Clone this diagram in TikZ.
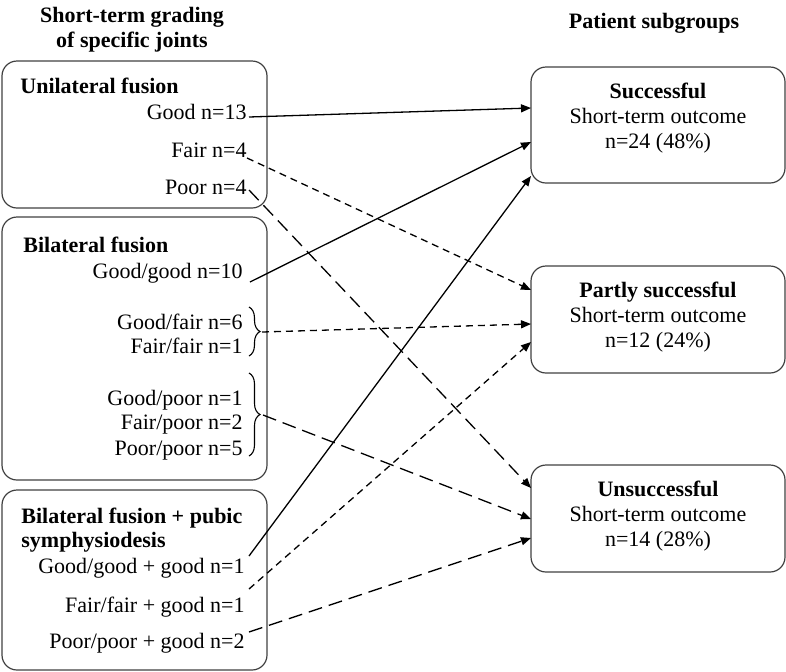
\documentclass[tikz,border=0pt]{standalone}
\usepackage{fontspec}
\setmainfont{Liberation Serif}
\usetikzlibrary{arrows.meta,decorations.pathreplacing,fit}
\begin{document}
\begin{tikzpicture}[x=0.5pt,y=-0.5pt,
  font=\fontsize{11}{12.5}\selectfont,
  box/.style={draw=black!75, line width=0.6pt, rounded corners=7.5pt, inner sep=0pt},
  lbl/.style={inner sep=0pt, anchor=base east},
  hdr/.style={inner sep=0pt, anchor=base west, font=\fontsize{11}{12.5}\selectfont\bfseries},
  ctr/.style={inner sep=0pt, anchor=base},
  solidarr/.style={line width=0.65pt, -{Triangle[length=5pt,width=4pt]}},
  shortdash/.style={line width=0.65pt, dash pattern=on 3.5pt off 2.5pt, -{Triangle[length=5pt,width=4pt]}},
  longdash/.style={line width=0.65pt, dash pattern=on 7pt off 3.5pt, -{Triangle[length=5pt,width=4pt]}},
  bracedeco/.style={line width=0.55pt, decorate, decoration={brace, amplitude=5.5pt}}
]
\useasboundingbox (0,0) rectangle (786,671);

% headers
\node[ctr, font=\fontsize{11}{12.5}\selectfont\bfseries] (t1) at (132,22) {Short-term grading};
\node[ctr, font=\fontsize{11}{12.5}\selectfont\bfseries] (t2) at (132,47) {of specific joints};
\node[ctr, font=\fontsize{11}{12.5}\selectfont\bfseries] (t3) at (654,28) {Patient subgroups};

% left boxes
\node[box, fit={(2,61) (267,208)}] (b1) {};
\node[box, fit={(2,217) (267,480)}] (b2) {};
\node[box, fit={(2,490) (267,670)}] (b3) {};

% right boxes
\node[box, fit={(531,67) (785,183)}] (r1) {};
\node[box, fit={(531,266) (785,373)}] (r2) {};
\node[box, fit={(531,465) (785,572)}] (r3) {};

% box 1 texts
\node[hdr] (h1) at (20,93) {Unilateral fusion};
\node[lbl] (u1) at (247,119) {Good n=13};
\node[lbl] (u2) at (247,157) {Fair n=4};
\node[lbl] (u3) at (247,194) {Poor n=4};

% box 2 texts
\node[hdr] (h2) at (23,252) {Bilateral fusion};
\node[lbl] (v1) at (243,278) {Good/good n=10};
\node[lbl] (v2) at (243,329) {Good/fair n=6};
\node[lbl] (v3) at (243,353) {Fair/fair n=1};
\node[lbl] (v4) at (243,405) {Good/poor n=1};
\node[lbl] (v5) at (243,429) {Fair/poor n=2};
\node[lbl] (v6) at (243,455) {Poor/poor n=5};

% braces
\draw[bracedeco] (249,307) -- (249,356);
\draw[bracedeco] (249,373) -- (249,456);
\coordinate (br1) at (262,332);
\coordinate (br2) at (263,415);

% box 3 texts
\node[hdr] (h3) at (21,523) {Bilateral fusion + pubic};
\node[hdr] (h3b) at (21,547) {symphysiodesis};
\node[lbl] (w1) at (245,573) {Good/good + good n=1};
\node[lbl] (w2) at (245,612) {Fair/fair + good n=1};
\node[lbl] (w3) at (245,648) {Poor/poor + good n=2};

% right texts
\node[ctr, font=\fontsize{11}{12.5}\selectfont\bfseries] (s1) at (658,98) {Successful};
\node[ctr] (s2) at (658,123) {Short-term outcome};
\node[ctr] (s3) at (658,148) {n=24 (48\%)};
\node[ctr, font=\fontsize{11}{12.5}\selectfont\bfseries] (p1) at (658,297) {Partly successful};
\node[ctr] (p2) at (658,322) {Short-term outcome};
\node[ctr] (p3) at (658,347) {n=12 (24\%)};
\node[ctr, font=\fontsize{11}{12.5}\selectfont\bfseries] (n1) at (658,496) {Unsuccessful};
\node[ctr] (n2) at (658,521) {Short-term outcome};
\node[ctr] (n3) at (658,546) {n=14 (28\%)};

% start coordinates
\coordinate (a1) at (249,117);
\coordinate (a2) at (247,158);
\coordinate (a3) at (249,190);
\coordinate (a4) at (250,282);
\coordinate (a7) at (249,556);
\coordinate (a8) at (249,589);
\coordinate (a9) at (249,632);

% end coordinates
\coordinate (e1) at (531,108);
\coordinate (e2) at (531,142);
\coordinate (e3) at (531,176);
\coordinate (f1) at (531,290);
\coordinate (f2) at (531,324);
\coordinate (f3) at (531,342);
\coordinate (g1) at (531,488);
\coordinate (g2) at (531,519);
\coordinate (g3) at (531,538);

% connectors
\draw[solidarr] (a1) -- (e1);
\draw[shortdash] (a2) -- (f1);
\draw[longdash] (a3) -- (g1);
\draw[solidarr] (a4) -- (e2);
\draw[shortdash] (br1) -- (f2);
\draw[longdash] (br2) -- (g2);
\draw[solidarr] (a7) -- (e3);
\draw[shortdash] (a8) -- (f3);
\draw[longdash] (a9) -- (g3);
\end{tikzpicture}
\end{document}
